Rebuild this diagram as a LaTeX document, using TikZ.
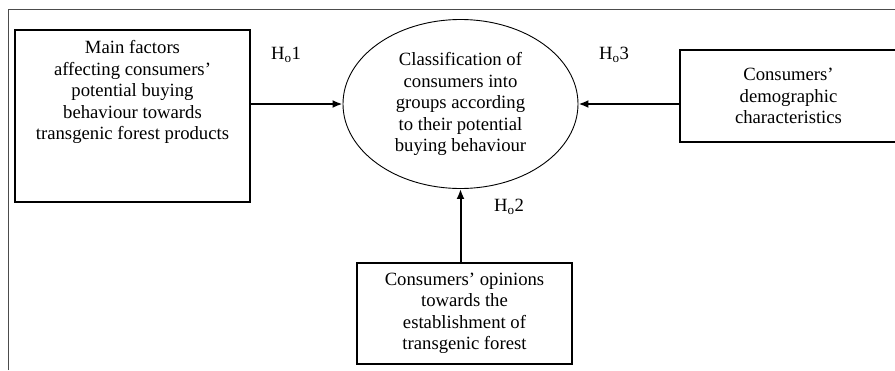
\documentclass[tikz,border=0pt]{standalone}
\usepackage{fontspec}
\setmainfont{Liberation Serif}
\usetikzlibrary{shapes.geometric,positioning,arrows.meta}
\tikzstyle{box}=[rectangle,draw=black,line width=1.2pt,inner sep=0pt,anchor=center]
\tikzstyle{oval}=[ellipse,draw=black,line width=0.9pt,inner sep=0pt,anchor=center]
\tikzstyle{annot}=[align=center,inner sep=0pt,font=\fontsize{18.7}{21.5}\selectfont]
\tikzstyle{arr}=[line width=2pt,-{Latex[length=10pt,width=8pt]}]

\begin{document}
\begin{tikzpicture}[x=1pt,y=-1pt]
	\useasboundingbox (0,0) rectangle (895,370);
	% frame
	\draw[black!70,line width=1pt] (8,370) -- (8,9) -- (895,9);

	\node[box, minimum width=235pt, minimum height=172pt](factors) at (132.5,116){};
	\node[annot, below=11pt of factors.north](factorstxt){Main factors\\affecting consumers’\\potential buying\\behaviour towards\\transgenic forest products};

	\node[oval, minimum width=235pt, minimum height=169pt, annot](classif) at (460.5,104){Classification of\\consumers into\\groups according\\to their potential\\buying behaviour};

	\node[box, minimum width=217pt, minimum height=92pt, annot](demog) at (788.5,96){Consumers’\\demographic\\characteristics};

	\node[box, minimum width=215pt, minimum height=101pt, annot](opinions) at (464.5,313.5){Consumers’ opinions\\towards the\\establishment of\\transgenic forest};

	\draw[arr] (factors.east |- classif.west) -- (classif.west);
	\draw[arr] (demog.west |- classif.east) -- (classif.east);
	\draw[arr] (opinions.north -| classif.south) -- (classif.south);

	\node[annot](h1) at (286,55){H\textsubscript{o}1};
	\node[annot](h2) at (509,207){H\textsubscript{o}2};
	\node[annot](h3) at (614,55){H\textsubscript{o}3};

\end{tikzpicture}
\end{document}
